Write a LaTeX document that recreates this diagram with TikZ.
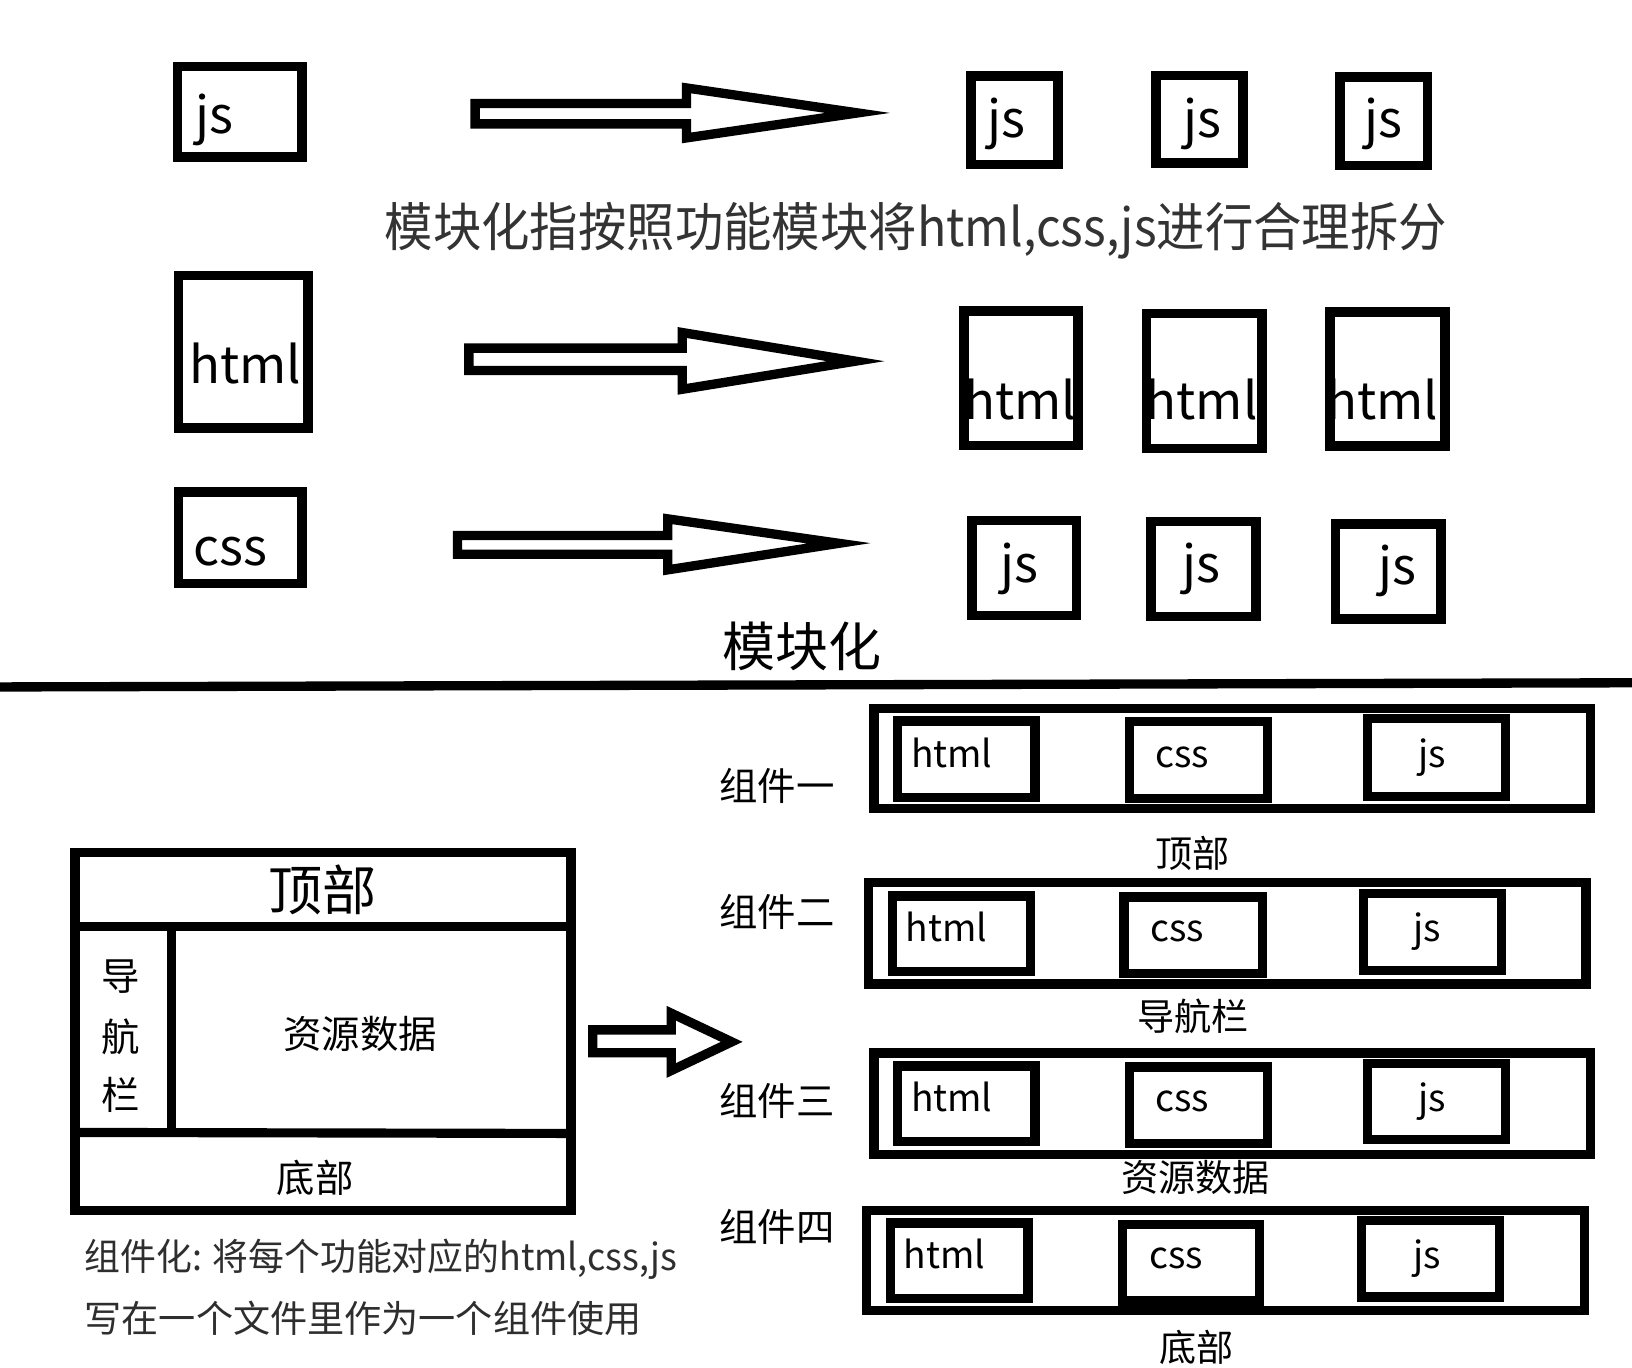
\documentclass[tikz,border=0pt]{standalone}
\usepackage{fontspec}
\setmainfont{Noto Sans CJK SC}
\begin{document}
\begin{tikzpicture}[x=0.02cm,y=-0.02cm,
  filebox/.style={draw=black,line width=5.3pt,fill=white,inner sep=0pt,outer sep=0pt},
  rowbox/.style={draw=black,line width=5.1pt,fill=white,inner sep=0pt,outer sep=0pt},
  blockarrow/.style={draw=black,line width=5.1pt,fill=white,line join=miter},
  bigtag/.style={inner sep=0pt,anchor=base,font=\fontsize{27.9pt}{30pt}\selectfont},
  smalltag/.style={inner sep=0pt,anchor=base,font=\fontsize{20.3pt}{22pt}\selectfont},
  cjklabel/.style={inner sep=0pt,anchor=base,font=\fontsize{21pt}{23pt}\selectfont},
  note/.style={inner sep=0pt,text=black!82,font=\fontsize{20.3pt}{22pt}\selectfont}]

% rectangle node from its centre-line corners
\newcommand\mkbox[6]{\node[#1, minimum width={(#5-#3)*0.02cm}, minimum height={(#6-#4)*0.02cm}]
  (#2) at ({(#3+#5)/2},{(#4+#6)/2}) {};}

\fill[white] (0,0) rectangle (1568,1314);
\useasboundingbox (0,0) rectangle (1568,1314);

% ---------- modular split ----------
\mkbox{filebox}{srcjs}{170.6}{63.9}{290}{150.6}
\mkbox{filebox}{srchtml}{171.6}{264.6}{296}{411}
\mkbox{filebox}{srccss}{171.6}{472.8}{290}{560.7}
\node[bigtag] (tjs) at (205.8,128) {js};
\node[bigtag] (thtml) at (235.5,368.5) {html};
\node[bigtag] (tcss) at (221,543) {css};

\draw[blockarrow] (456.5,99.5) -- (659.5,99.5) -- (659.5,84.5) -- (824,108.5)
  -- (659.5,132.5) -- (659.5,119) -- (456.5,119) -- cycle;
\draw[blockarrow] (450.5,334.5) -- (655.5,334.5) -- (655.5,319.5) -- (822,347)
  -- (655.5,374) -- (655.5,356) -- (450.5,356) -- cycle;
\draw[blockarrow] (439.5,514.5) -- (641.5,514.5) -- (641.5,498.5) -- (806,522)
  -- (641.5,547.5) -- (641.5,532.5) -- (439.5,532.5) -- cycle;

\mkbox{filebox}{js1}{932.6}{73.2}{1016.4}{158}
\mkbox{filebox}{js2}{1110.6}{72.4}{1194.4}{156.4}
\mkbox{filebox}{js3}{1287.6}{74}{1371.4}{158.9}
\node[bigtag] at (966.5,132) {js};
\node[bigtag] at (1155,132) {js};
\node[bigtag] at (1329,132) {js};

\node[inner sep=0pt,anchor=base,text=black!80,font=\fontsize{27pt}{29pt}\selectfont]
  (desc) at (880,237) {\scalebox{0.98}[1.06]{模块化指按照功能模块将html,css,js进行合理拆分}};

\mkbox{filebox}{html1}{926}{298.6}{1036}{428}
\mkbox{filebox}{html2}{1101.6}{301.2}{1212.4}{430.8}
\mkbox{filebox}{html3}{1278}{299.6}{1388.4}{428.8}
\node[bigtag] at (980,403.5) {html};
\node[bigtag] at (1154.5,403.5) {html};
\node[bigtag] at (1328,403.5) {html};

\mkbox{filebox}{cssA}{933.6}{500.2}{1034.4}{591.4}
\mkbox{filebox}{cssB}{1105.6}{501}{1206.4}{592.2}
\mkbox{filebox}{cssC}{1283.2}{503.6}{1384.4}{594.4}
\node[bigtag] at (979,560) {js};
\node[bigtag] at (1154.5,560) {js};
\node[bigtag] at (1343,562) {js};

\node[inner sep=0pt,anchor=base,font=\fontsize{29pt}{31pt}\selectfont] (modtitle) at (771,640) {模块化};

% divider
\coordinate (divL) at (0,660);
\coordinate (divR) at (1568,656);
\draw[line width=5.1pt] (divL) -- (divR);

% ---------- page layout ----------
\mkbox{filebox}{page}{72}{819}{548.5}{1163}
\draw[line width=5pt] (72,890.5) -- (548.5,890.5);
\draw[line width=5pt] (164.6,890.5) -- (164.6,1088);
\draw[line width=5pt] (72,1088) -- (548.5,1089);
\node[inner sep=0pt,anchor=base,font=\fontsize{29.6pt}{31pt}\selectfont] (ptop) at (309.7,875) {顶部};
\node[cjklabel] (pnav1) at (115.6,951.7) {导};
\node[cjklabel] (pnav2) at (115.6,1010) {航};
\node[cjklabel] (pnav3) at (115.6,1066) {栏};
\node[cjklabel] (pdata) at (346,1007.3) {资源数据};
\node[cjklabel] (pfoot) at (302.8,1145.3) {底部};

\node[note,anchor=base west] (cap1) at (81,1220.5) {\scalebox{0.965}[1]{组件化: 将每个功能对应的html,css,js}};
\node[note,anchor=base west] (cap2) at (81,1280.5) {写在一个文件里作为一个组件使用};

\draw[blockarrow] (569.5,989.5) -- (645,989.5) -- (645,973.5) -- (703,1001)
  -- (645,1028.5) -- (645,1011.5) -- (569.5,1011.5) -- cycle;

% ---------- components ----------
\node[cjklabel,anchor=base west] at (691,768.7) {组件一};
\node[cjklabel,anchor=base west] at (691,889.7) {组件二};
\node[cjklabel,anchor=base west] at (691,1071.7) {组件三};
\node[cjklabel,anchor=base west] at (691,1193.2) {组件四};

% row 1
\mkbox{rowbox}{r1}{839.6}{680.5}{1528.2}{777.1}
\mkbox{rowbox}{r1h}{862.5}{692.8}{994.5}{766.1}
\mkbox{rowbox}{r1c}{1084.9}{693.2}{1217.7}{767.5}
\mkbox{rowbox}{r1j}{1313.8}{690.5}{1446.5}{765.1}
\node[smalltag,anchor=base west] at (875,737) {html};
\node[smalltag] at (1136,737) {css};
\node[smalltag] at (1376,737) {js};
\node[smalltag] at (1145.6,833.5) {顶部};

% row 2
\mkbox{rowbox}{r2}{834.7}{848.1}{1523.7}{945.5}
\mkbox{rowbox}{r2h}{857.5}{860.9}{990}{933.7}
\mkbox{rowbox}{r2c}{1079.9}{861.8}{1212.8}{935}
\mkbox{rowbox}{r2j}{1309.8}{858.3}{1442.5}{932.3}
\node[smalltag,anchor=base west] at (870,904.8) {html};
\node[smalltag] at (1131,904.8) {css};
\node[smalltag] at (1371,904.8) {js};
\node[smalltag] at (1146.5,990.5) {导航栏};

% row 3
\mkbox{rowbox}{r3}{839.6}{1011.7}{1528.2}{1109.3}
\mkbox{rowbox}{r3h}{862.5}{1024.1}{994.5}{1096.5}
\mkbox{rowbox}{r3c}{1084.9}{1025}{1217.7}{1098.5}
\mkbox{rowbox}{r3j}{1313.8}{1021.9}{1446.5}{1095.1}
\node[smalltag,anchor=base west] at (875,1068) {html};
\node[smalltag] at (1136,1068) {css};
\node[smalltag] at (1376,1068) {js};
\node[smalltag] at (1148.6,1145) {资源数据};

% row 4
\mkbox{rowbox}{r4}{832.7}{1162.7}{1522.3}{1258.8}
\mkbox{rowbox}{r4h}{855.5}{1175}{987.8}{1247.8}
\mkbox{rowbox}{r4c}{1078.5}{1176.7}{1210.2}{1250}
\mkbox{rowbox}{r4j}{1307.8}{1172.9}{1440.5}{1246.1}
\node[smalltag,anchor=base west] at (868,1218.4) {html};
\node[smalltag] at (1130,1218.4) {css};
\node[smalltag] at (1371,1218.4) {js};
\node[smalltag] at (1150,1308.5) {底部};
\end{tikzpicture}
\end{document}
